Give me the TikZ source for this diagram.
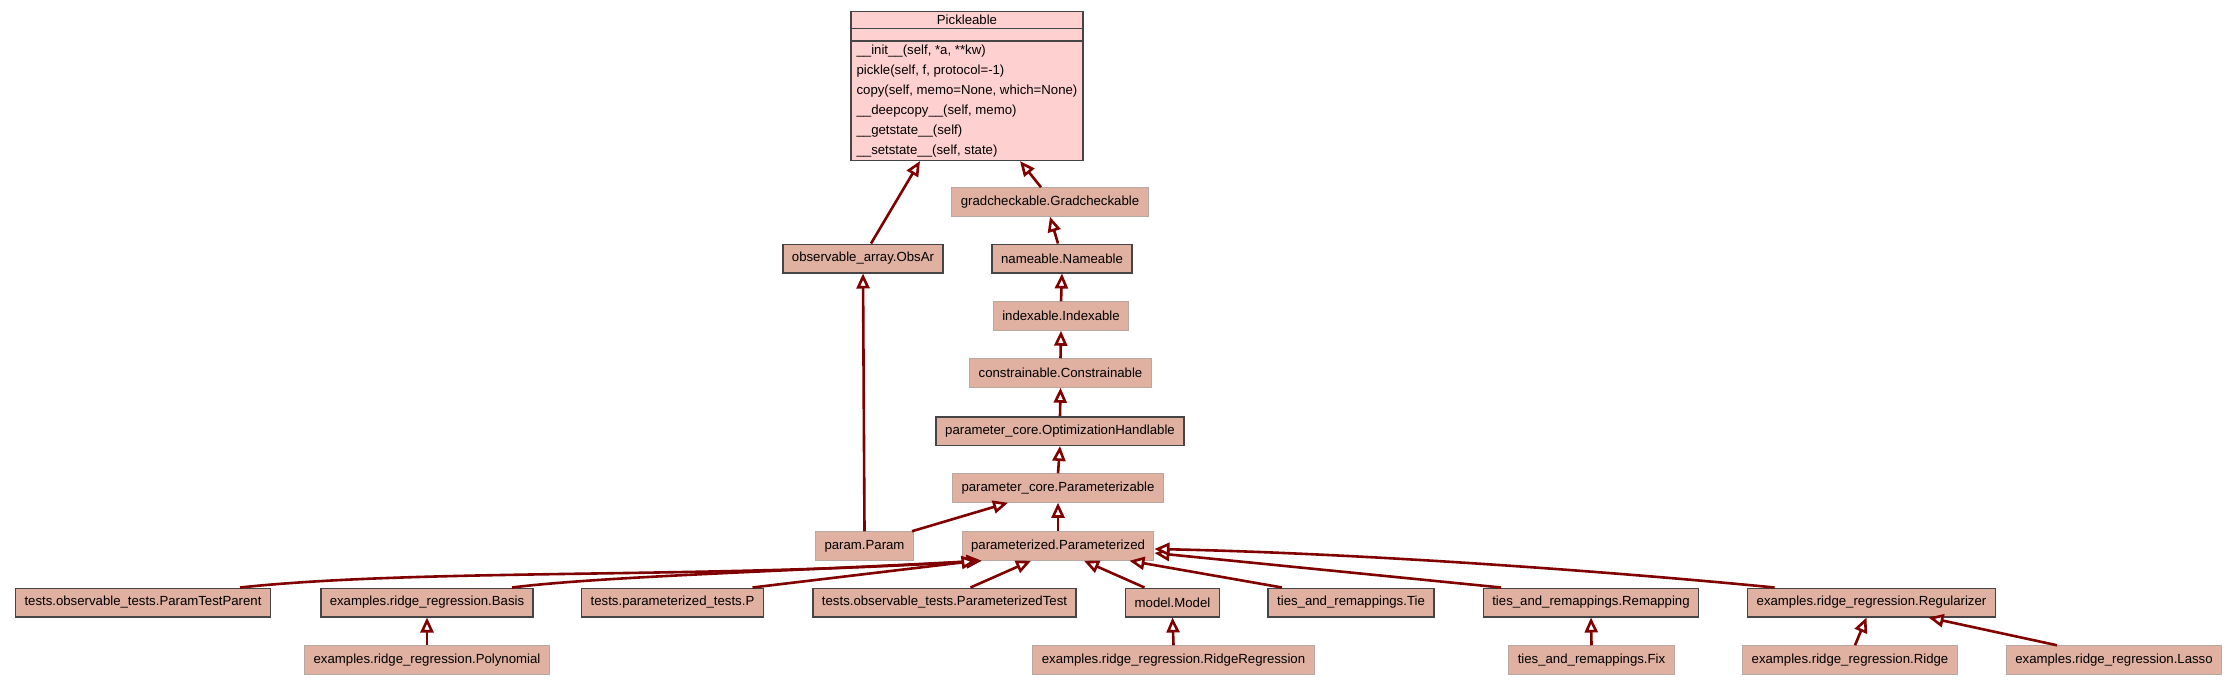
\documentclass[tikz,border=0pt]{standalone}
\usepackage{fontspec}
\setmainfont{Liberation Sans}
\usetikzlibrary{shapes.multipart, arrows.meta}
\definecolor{clsfill}{HTML}{E0B0A0}
\definecolor{pickfill}{HTML}{FFD0D0}
\definecolor{edgecol}{HTML}{800000}
\definecolor{darkbd}{HTML}{454545}
\definecolor{lightbd}{HTML}{B8A8A4}
\begin{document}
\begin{tikzpicture}[x=1pt, y=-1pt, font=\fontsize{13.2}{16}\selectfont,
  cls/.style={draw=darkbd, line width=1.5pt, fill=clsfill, inner xsep=9pt, inner ysep=0pt, minimum height=28.5pt},
  clsl/.style={cls, draw=lightbd, line width=1pt},
  inh/.style={draw=edgecol, line width=2.6pt, -{Triangle[open, fill=white, length=15pt, width=13pt]}}]
			\useasboundingbox (0,0) rectangle (2237,685);
			\node[draw=darkbd, line width=1.2pt, fill=pickfill, rectangle split, rectangle split parts=3,
			  rectangle split part align={center,left,left}, rectangle split empty part height=0pt,
			  align=left, inner xsep=5.5pt, inner ysep=3pt, font=\fontsize{13.2}{20}\selectfont,
			  anchor=north] (pick) at (967,11) {Pickleable
			  \nodepart{second}
			  \nodepart{third}\_\_init\_\_(self, *a, **kw)\\
			  pickle(self, f, protocol=-1)\\
			  copy(self, memo=None, which=None)\\
			  \_\_deepcopy\_\_(self, memo)\\
			  \_\_getstate\_\_(self)\\
			  \_\_setstate\_\_(self, state)};
			\node[clsl] (grad) at (1050,202) {gradcheckable.Gradcheckable};
			\node[cls] (obsar) at (863,258.5) {observable\_array.ObsAr};
			\node[cls] (name) at (1062,258.5) {nameable.Nameable};
			\node[clsl] (idx) at (1061,316) {indexable.Indexable};
			\node[clsl] (constr) at (1060.5,373) {constrainable.Constrainable};
			\node[cls] (opth) at (1060,431) {parameter\_core.OptimizationHandlable};
			\node[clsl] (pzable) at (1058,488) {parameter\_core.Parameterizable};
			\node[clsl] (param) at (864.5,546) {param.Param};
			\node[clsl] (pzed) at (1058,546) {parameterized.Parameterized};
			\node[cls] (ptp) at (143,602.5) {tests.observable\_tests.ParamTestParent};
			\node[cls] (basis) at (427,602.5) {examples.ridge\_regression.Basis};
			\node[cls] (ptests) at (672.5,602.5) {tests.parameterized\_tests.P};
			\node[cls] (ptest) at (944.5,602.5) {tests.observable\_tests.ParameterizedTest};
			\node[cls] (model) at (1172.5,602.5) {model.Model};
			\node[cls] (tie) at (1351,602.5) {ties\_and\_remappings.Tie};
			\node[cls] (remap) at (1591,602.5) {ties\_and\_remappings.Remapping};
			\node[cls] (regul) at (1871.5,602.5) {examples.ridge\_regression.Regularizer};
			\node[clsl] (poly) at (427,660) {examples.ridge\_regression.Polynomial};
			\node[clsl] (ridgereg) at (1173.5,660) {examples.ridge\_regression.RidgeRegression};
			\node[clsl] (fix) at (1591.5,660) {ties\_and\_remappings.Fix};
			\node[clsl] (ridge) at (1850,660) {examples.ridge\_regression.Ridge};
			\node[clsl] (lasso) at (2114,660) {examples.ridge\_regression.Lasso};
			\draw[inh] ([xshift=8pt]obsar.north) -- ([xshift=-47pt]pick.south);
			\draw[inh] ([xshift=-9pt]grad.north) -- ([xshift=53pt]pick.south);
			\draw[inh] ([xshift=-4pt]name.north) -- (grad.south);
			\draw[inh] (idx.north) -- (name.south);
			\draw[inh] (constr.north) -- (idx.south);
			\draw[inh] (opth.north) -- (constr.south);
			\draw[inh] (pzable.north) -- (opth.south);
			\draw[inh] ([xshift=-2pt]param.north east) -- ([xshift=-50pt]pzable.south);
			\draw[inh] (param.north) -- (obsar.south);
			\draw[inh] (pzed.north) -- (pzable.south);
			\draw[inh] ([xshift=97pt]ptp.north) .. controls +(180,-19) and +(-284,18) .. ([xshift=20pt]pzed.south west);
			\draw[inh] ([xshift=85pt]basis.north) .. controls +(88,-11) and +(-184,10) .. ([xshift=20pt]pzed.south west);
			\draw[inh] ([xshift=80pt]ptests.north) -- ([xshift=15pt]pzed.south west);
			\draw[inh] ([xshift=26pt]ptest.north) -- ([xshift=-27pt]pzed.south);
			\draw[inh] ([xshift=-28pt]model.north) -- ([xshift=26pt]pzed.south);
			\draw[inh] ([xshift=-69pt]tie.north) -- ([xshift=-25pt]pzed.south east);
			\draw[inh] ([xshift=-90pt]remap.north) -- ([yshift=-7pt]pzed.east);
			\draw[inh] ([xshift=-97pt]regul.north) .. controls +(-174,-17) and +(197,4) .. ([yshift=-3pt]pzed.east);
			\draw[inh] (poly.north) -- (basis.south);
			\draw[inh] (ridgereg.north) -- (model.south);
			\draw[inh] (fix.north) -- (remap.south);
			\draw[inh] ([xshift=5pt]ridge.north) -- ([xshift=-5pt]regul.south);
			\draw[inh] ([xshift=-57pt]lasso.north) -- ([xshift=57pt]regul.south);
		\end{tikzpicture}
\end{document}
